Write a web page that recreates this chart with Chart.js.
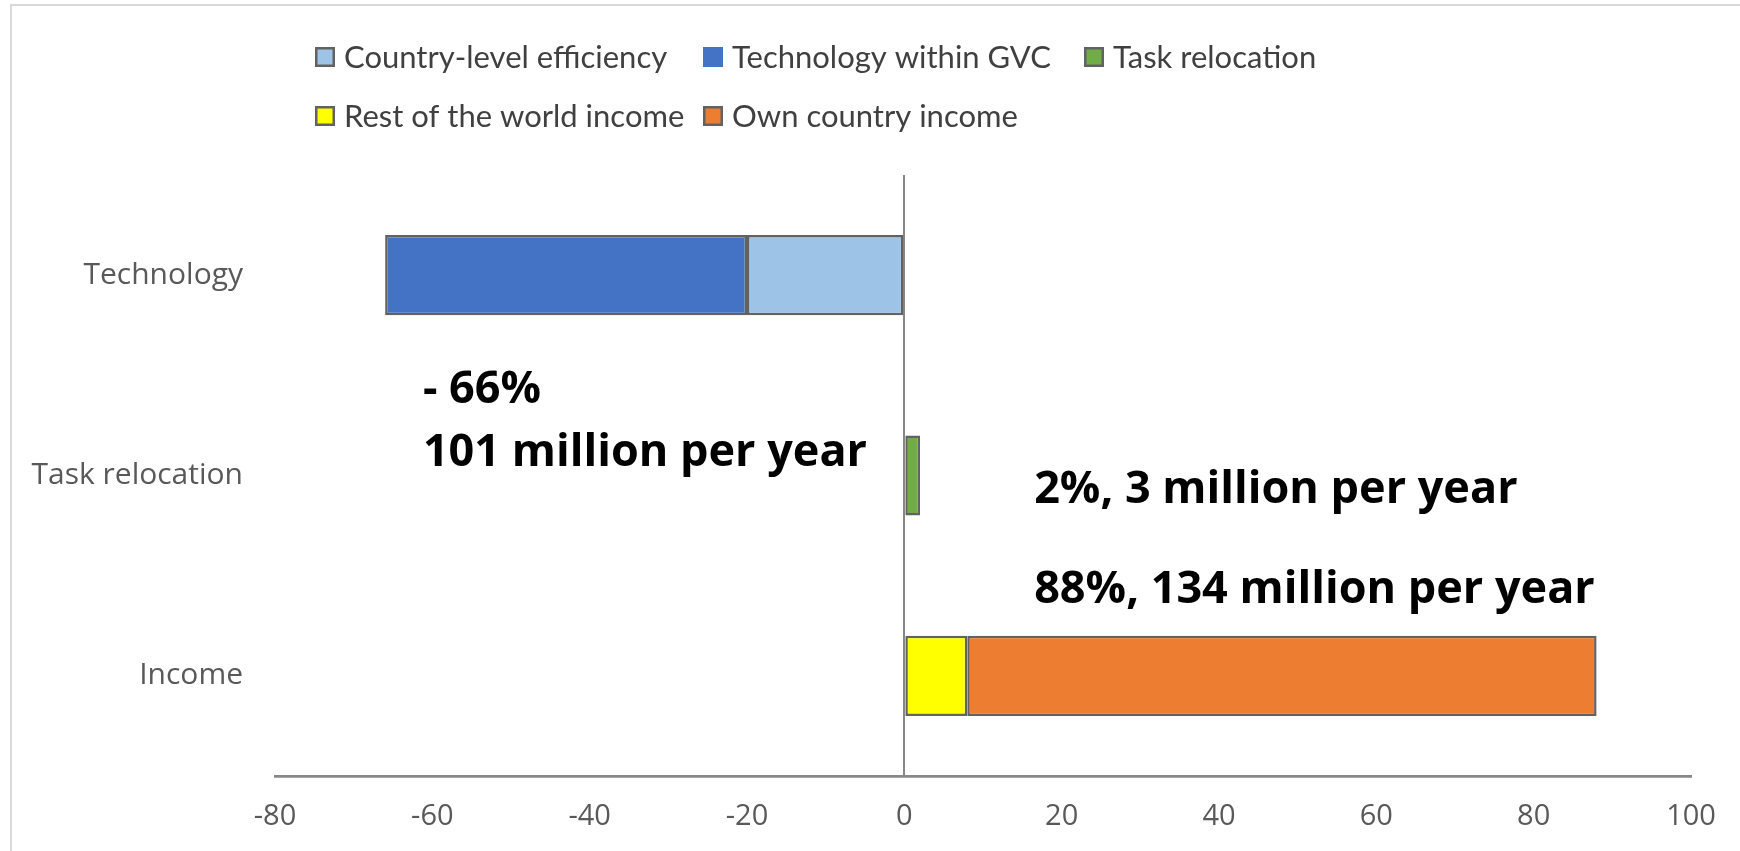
<!DOCTYPE html>
<html>
<head>
<meta charset="utf-8">
<title>Employment decomposition</title>
<script src="https://cdn.jsdelivr.net/npm/chart.js@4.4.1/dist/chart.umd.min.js"></script>
<style>
  html, body { margin: 0; padding: 0; background: #fff; }
  #wrap { width: 1740px; height: 851px; }
</style>
</head>
<body>
<div id="wrap"><canvas id="decompChart" width="1740" height="851"></canvas></div>
<script>
// categories, top to bottom
const categories = ['Technology', 'Task relocation', 'Income'];

// contribution of each component (%)
const countryEfficiency = [-20, null, null];
const techWithinGvc = [-46, null, null];
const taskRelocation = [null, 2, null];
const restOfWorldIncome = [null, null, 8];
const ownCountryIncome = [null, null, 80];

// million per year for each category
const millionsPerYear = [101, 3, 134];

// x axis range
const xMin = -80;
const xMax = 100;
const xStep = 20;

const OUTLINE = '#626262';
const TEXT = '#595959';

function makeSet(label, data, color, legendOutline = true) {
  return {
    label, data,
    backgroundColor: color,
    borderColor: OUTLINE,
    borderWidth: 2.5,
    borderSkipped: false,
    legendOutline
  };
}

// light frame along the top and left edge
const frame = {
  id: 'frame',
  beforeDraw(chart) {
    const ctx = chart.ctx;
    ctx.save();
    ctx.strokeStyle = '#d9d9d9';
    ctx.lineWidth = 2;
    ctx.beginPath();
    ctx.moveTo(11, chart.height);
    ctx.lineTo(11, 5);
    ctx.lineTo(chart.width, 5);
    ctx.stroke();
    ctx.restore();
  }
};

// legend laid out as a 3-column grid
const legendGrid = {
  id: 'legendGrid',
  afterDraw(chart) {
    const ctx = chart.ctx;
    const cols = [315, 703, 1084];
    const rows = [57, 116];
    ctx.save();
    ctx.font = '31px Lato';
    ctx.textBaseline = 'middle';
    chart.data.datasets.forEach((ds, i) => {
      const bx = cols[i % 3];
      const cy = rows[Math.floor(i / 3)];
      ctx.fillStyle = ds.backgroundColor;
      ctx.fillRect(bx, cy - 10, 20, 20);
      if (ds.legendOutline) {
        ctx.strokeStyle = OUTLINE;
        ctx.lineWidth = 2.5;
        ctx.strokeRect(bx + 1.25, cy - 8.75, 17.5, 17.5);
      }
      ctx.fillStyle = '#404040';
      ctx.fillText(ds.label, bx + 29, cy + 1);
    });
    ctx.restore();
  }
};

// bold notes with totals and millions per year
const notes = {
  id: 'notes',
  afterDatasetsDraw(chart) {
    const { ctx, scales: { x, y } } = chart;
    const totals = categories.map((_, i) =>
      chart.data.datasets.reduce((s, d) => s + (d.data[i] || 0), 0));
    const pct = v => (v < 0 ? '- ' : '') + Math.abs(v) + '%';
    const items = [
      { text: pct(totals[0]), x: -61.2, y: 0.64 },
      { text: millionsPerYear[0] + ' million per year', x: -61.2, y: 0.955 },
      { text: pct(totals[1]) + ', ' + millionsPerYear[1] + ' million per year', x: 16.5, y: 1.135 },
      { text: pct(totals[2]) + ', ' + millionsPerYear[2] + ' million per year', x: 16.5, y: 1.635 }
    ];
    ctx.save();
    ctx.font = 'bold 45px "Open Sans"';
    ctx.fillStyle = '#000';
    ctx.textBaseline = 'alphabetic';
    items.forEach(n => ctx.fillText(n.text, x.getPixelForValue(n.x), y.getPixelForValue(n.y)));
    ctx.restore();
  }
};

new Chart(document.getElementById('decompChart'), {
  type: 'bar',
  data: {
    labels: categories,
    datasets: [
      makeSet('Country-level efficiency', countryEfficiency, '#9DC3E6'),
      makeSet('Technology within GVC', techWithinGvc, '#4472C4', false),
      makeSet('Task relocation', taskRelocation, '#70AD47'),
      makeSet('Rest of the world income', restOfWorldIncome, '#FFFF00'),
      makeSet('Own country income', ownCountryIncome, '#ED7D31')
    ]
  },
  options: {
    indexAxis: 'y',
    responsive: false,
    animation: false,
    barPercentage: 0.4,
    categoryPercentage: 1,
    layout: { padding: { top: 175, right: 49, bottom: 0, left: 0 } },
    plugins: { legend: { display: false }, tooltip: { enabled: false } },
    scales: {
      x: {
        type: 'linear',
        stacked: true,
        min: xMin, max: xMax,
        ticks: { stepSize: xStep, padding: 23, color: TEXT, font: { family: 'Open Sans', size: 29 } },
        grid: {
          drawTicks: false,
          lineWidth: 2,
          color: c => (c.tick && c.tick.value === 0 ? '#878787' : 'rgba(0,0,0,0)')
        },
        border: { color: '#878787', width: 2.7 },
        afterFit: s => { s.height = 75; }
      },
      y: {
        stacked: true,
        ticks: { padding: 32, color: TEXT, font: { family: 'Open Sans', size: 30 } },
        grid: { display: false, drawTicks: false },
        border: { display: false },
        afterFit: s => { s.width = 275; }
      }
    }
  },
  plugins: [frame, legendGrid, notes]
});
</script>
</body>
</html>
